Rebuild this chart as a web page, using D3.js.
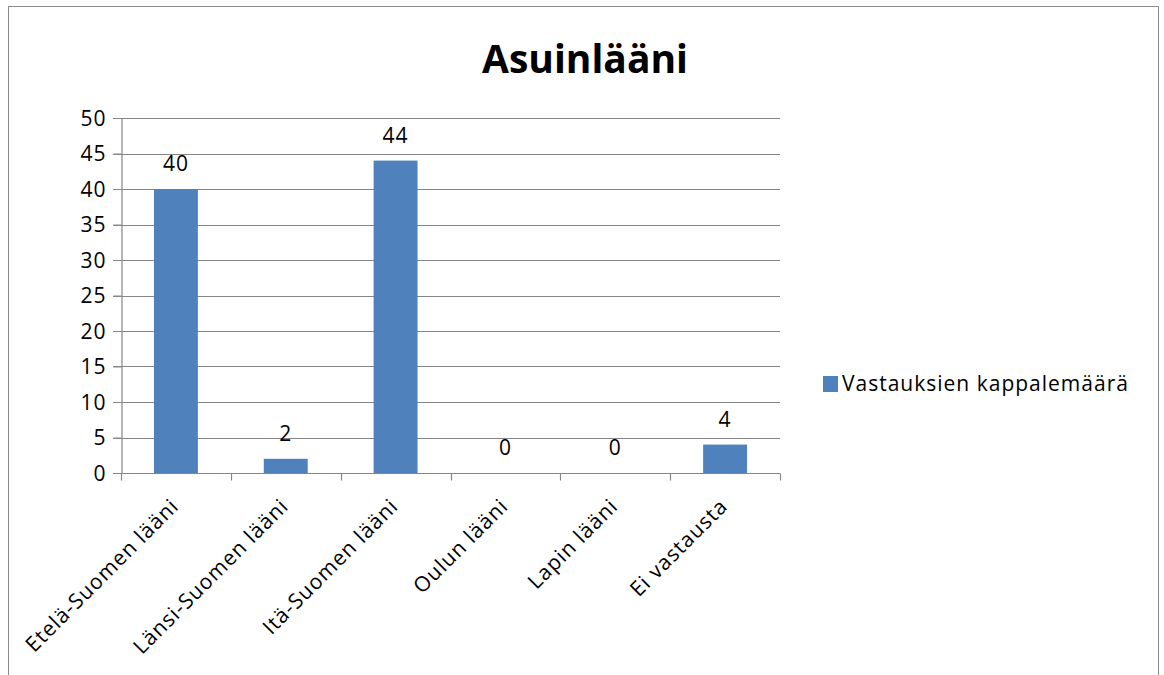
<!DOCTYPE html>
<html><head><meta charset="utf-8">
<script src="https://cdn.jsdelivr.net/npm/d3@7"></script>
<style>body{margin:0;background:#fff}svg{display:block}text{font-family:"Open Sans",sans-serif;fill:#000}</style>
</head><body><svg id="c" width="1164" height="675"></svg>
<script>
const categories = ["Etelä-Suomen lääni","Länsi-Suomen lääni","Itä-Suomen lääni","Oulun lääni","Lapin lääni","Ei vastausta"];
const values = [40, 2, 44, 0, 0, 4];
const yTicks = [0,5,10,15,20,25,30,35,40,45,50];
const seriesName = "Vastauksien kappalemäärä";
const title = "Asuinlääni";

const svg = d3.select("#c");
const m = {left:121, right:780, top:118, bottom:473};
const grid = "#868686", barColor = "#4F81BD";
const FS = 21, LS = "1px";

svg.append("rect").attr("x",8.5).attr("y",6.5).attr("width",1150).attr("height",700)
  .attr("fill","#fff").attr("stroke","#8c8c8c").attr("stroke-width",1);

const x = d3.scaleBand().domain(categories).range([m.left, m.right]).paddingInner(0.6).paddingOuter(0.3);
const y = d3.scaleLinear().domain([0,50]).range([m.bottom, m.top]);

// gridlines
svg.append("g").selectAll("line").data(yTicks).join("line")
  .attr("x1",m.left-8).attr("x2",m.right).attr("y1",d=>Math.round(y(d))+0.5).attr("y2",d=>Math.round(y(d))+0.5)
  .attr("stroke",grid).attr("stroke-width",1.2);

// y axis
const ya = svg.append("g").attr("transform",`translate(${m.left+0.5},0)`)
  .call(d3.axisLeft(y).tickValues(yTicks).tickSize(8).tickPadding(7));
ya.attr("font-family",null).attr("font-size",null);
ya.select(".domain").attr("stroke",grid).attr("stroke-width",1.2);
ya.selectAll(".tick line").attr("stroke",grid);
ya.selectAll("text").attr("font-size",FS).attr("letter-spacing",LS).attr("dy","0.35em").attr("fill","#000");

// bars
svg.append("g").selectAll("rect").data(values).join("rect")
  .attr("x",(d,i)=>x(categories[i])).attr("width",x.bandwidth())
  .attr("y",d=>y(d)).attr("height",d=>y(0)-y(d)).attr("fill",barColor);

// x axis
const xa = svg.append("g").attr("transform",`translate(0,${m.bottom+0.5})`);
xa.append("line").attr("x1",m.left).attr("x2",m.right).attr("stroke",grid).attr("stroke-width",1.2);
const bounds = d3.range(categories.length+1).map(i=>m.left + i*(m.right-m.left)/categories.length);
xa.selectAll("line.t").data(bounds).join("line").attr("class","t")
  .attr("x1",d=>Math.round(d)+0.5).attr("x2",d=>Math.round(d)+0.5).attr("y1",0).attr("y2",7)
  .attr("stroke",grid).attr("stroke-width",1.2);
xa.selectAll("text").data(categories).join("text")
  .attr("transform",d=>`translate(${x(d)+x.bandwidth()/2+4},${34}) rotate(-45)`)
  .attr("text-anchor","end").attr("font-size",FS).attr("letter-spacing",LS).text(d=>d);

// value labels
svg.append("g").selectAll("text").data(values).join("text")
  .attr("x",(d,i)=>x(categories[i])+x.bandwidth()/2).attr("y",d=>y(d)-18)
  .attr("text-anchor","middle").attr("font-size",FS).attr("letter-spacing",LS).text(d=>d);

// title
svg.append("text").attr("x",585).attr("y",73).attr("text-anchor","middle")
  .attr("font-size",39).attr("font-weight","bold").text(title);

// legend
svg.append("rect").attr("x",823).attr("y",376).attr("width",15).attr("height",16).attr("fill",barColor);
svg.append("text").attr("x",842).attr("y",391).attr("font-size",FS).attr("letter-spacing",LS).text(seriesName);
</script></body></html>
